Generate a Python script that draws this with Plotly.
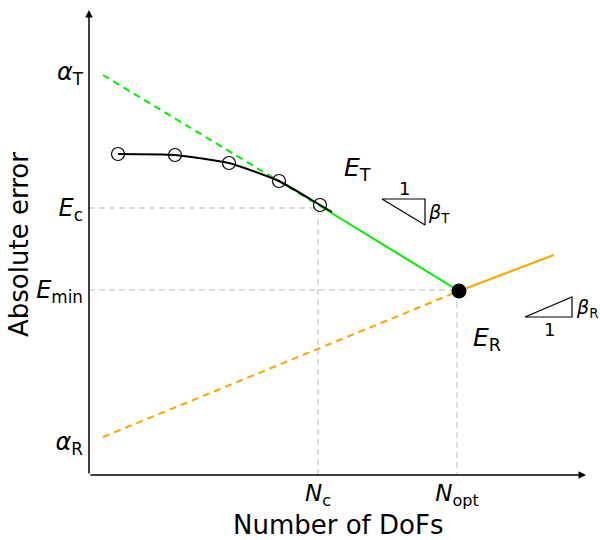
import plotly.graph_objects as go

# ---- data (schematic coordinates) ----
alphaT_line_x = [14, 231]
alphaT_line_y = [400, 269]
ET_solid_x = [231, 370]
ET_solid_y = [269, 184]
alphaR_line_x = [14, 370]
alphaR_line_y = [38, 184]
ER_solid_x = [370, 465]
ER_solid_y = [184, 220]

curve_x = [29, 86, 140, 190, 231, 243]
curve_y = [321, 320, 312, 294, 270, 263]
circle_x = [29, 86, 140, 190, 231]
circle_y = [321, 320, 312, 294, 270]

opt_x = [370]
opt_y = [184]

Nc = 229
Nopt = 368
Ec = 267
Emin = 185
alphaT = 403
alphaR = 33

triT_x = [293, 336, 336, 293]
triT_y = [276, 276, 250, 276]
triR_x = [436, 483, 483, 436]
triR_y = [158, 158, 178, 158]

ytick_vals = [alphaR, Emin, Ec, alphaT]
ytick_text = ["<i>α</i><sub>R</sub>", "<i>E</i><sub>min</sub>", "<i>E</i><sub>c</sub>", "<i>α</i><sub>T</sub>"]
xtick_vals = [Nc, Nopt]
xtick_text = ["<i>N</i><sub>c</sub>", "<i>N</i><sub>opt</sub>"]

FONT = "DejaVu Sans"
GREEN = "#00ee00"
ORANGE = "#ffa500"
GREY = "#bbbbbb"

PLOT_W = 511
PLOT_H = 475

fig = go.Figure()

# reference dashed lines
fig.add_trace(go.Scatter(x=[0, Nc, Nc], y=[Ec, Ec, 0], mode="lines",
                         line=dict(color=GREY, width=1, dash="6px,4px")))
fig.add_trace(go.Scatter(x=[0, Nopt, Nopt], y=[Emin, Emin, 0], mode="lines",
                         line=dict(color=GREY, width=1, dash="6px,4px")))

# truncation error
fig.add_trace(go.Scatter(x=alphaT_line_x, y=alphaT_line_y, mode="lines",
                         line=dict(color=GREEN, width=2, dash="7px,5px")))
fig.add_trace(go.Scatter(x=ET_solid_x, y=ET_solid_y, mode="lines",
                         line=dict(color=GREEN, width=2)))
# round-off error
fig.add_trace(go.Scatter(x=alphaR_line_x, y=alphaR_line_y, mode="lines",
                         line=dict(color=ORANGE, width=2, dash="7px,5px")))
fig.add_trace(go.Scatter(x=ER_solid_x, y=ER_solid_y, mode="lines",
                         line=dict(color=ORANGE, width=2)))

# measured curve
fig.add_trace(go.Scatter(x=curve_x, y=curve_y, mode="lines",
                         line=dict(color="black", width=2, shape="spline", smoothing=0.5)))
fig.add_trace(go.Scatter(x=circle_x, y=circle_y, mode="markers",
                         marker=dict(symbol="circle-open", size=13, color="black",
                                     line=dict(width=1.2, color="black"))))
fig.add_trace(go.Scatter(x=opt_x, y=opt_y, mode="markers",
                         marker=dict(symbol="circle", size=15, color="black")))

# slope triangles
fig.add_trace(go.Scatter(x=triT_x, y=triT_y, mode="lines",
                         line=dict(color="black", width=1.2)))
fig.add_trace(go.Scatter(x=triR_x, y=triR_y, mode="lines",
                         line=dict(color="black", width=1.2)))


def px_to_paper(px, py):
    return (px - 89) / PLOT_W, (475 - py) / PLOT_H


ytx, yty = px_to_paper(19, 245)
xtx, xty = px_to_paper(338, 525)

annotations = [
    # axis arrows
    dict(x=0, y=465, ax=0, ay=0, axref="x", ayref="y", xref="x", yref="y",
         text="", showarrow=True, arrowhead=2, arrowsize=1, arrowwidth=1.5, arrowcolor="black"),
    dict(x=497, y=0, ax=0, ay=0, axref="x", ayref="y", xref="x", yref="y",
         text="", showarrow=True, arrowhead=2, arrowsize=1, arrowwidth=1.5, arrowcolor="black"),
    # labels
    dict(x=268, y=306, text="<i>E</i><sub>T</sub>", showarrow=False, font=dict(size=25)),
    dict(x=398, y=136, text="<i>E</i><sub>R</sub>", showarrow=False, font=dict(size=25)),
    dict(x=315, y=287, text="1", showarrow=False, font=dict(size=18)),
    dict(x=350, y=262, text="<i>β</i><sub>T</sub>", showarrow=False, font=dict(size=19)),
    dict(x=460, y=146, text="1", showarrow=False, font=dict(size=18)),
    dict(x=498, y=167, text="<i>β</i><sub>R</sub>", showarrow=False, font=dict(size=19)),
    # axis titles
    dict(x=ytx, y=yty, xref="paper", yref="paper", text="Absolute error", showarrow=False,
         textangle=-90, xanchor="center", yanchor="middle", font=dict(size=26)),
    dict(x=xtx, y=xty, xref="paper", yref="paper", text="Number of DoFs", showarrow=False,
         xanchor="center", yanchor="middle", font=dict(size=26)),
]

fig.update_layout(
    width=600, height=540,
    margin=dict(l=89, r=0, t=0, b=65),
    paper_bgcolor="white", plot_bgcolor="white",
    showlegend=False,
    font=dict(family=FONT, color="black", size=24),
    annotations=annotations,
    xaxis=dict(range=[0, PLOT_W], showgrid=False, zeroline=False, showline=False,
               tickvals=xtick_vals, ticktext=xtick_text, ticks="",
               tickfont=dict(size=23), ticklabelstandoff=2, fixedrange=True),
    yaxis=dict(range=[0, PLOT_H], showgrid=False, zeroline=False, showline=False,
               tickvals=ytick_vals, ticktext=ytick_text, ticks="",
               tickfont=dict(size=24), ticklabelstandoff=5, fixedrange=True),
    hovermode=False,
)

fig.write_html(
    "out.html",
    config={"displayModeBar": False, "staticPlot": True},
    post_script="document.body.style.margin='0';document.body.style.overflow='hidden';",
)
